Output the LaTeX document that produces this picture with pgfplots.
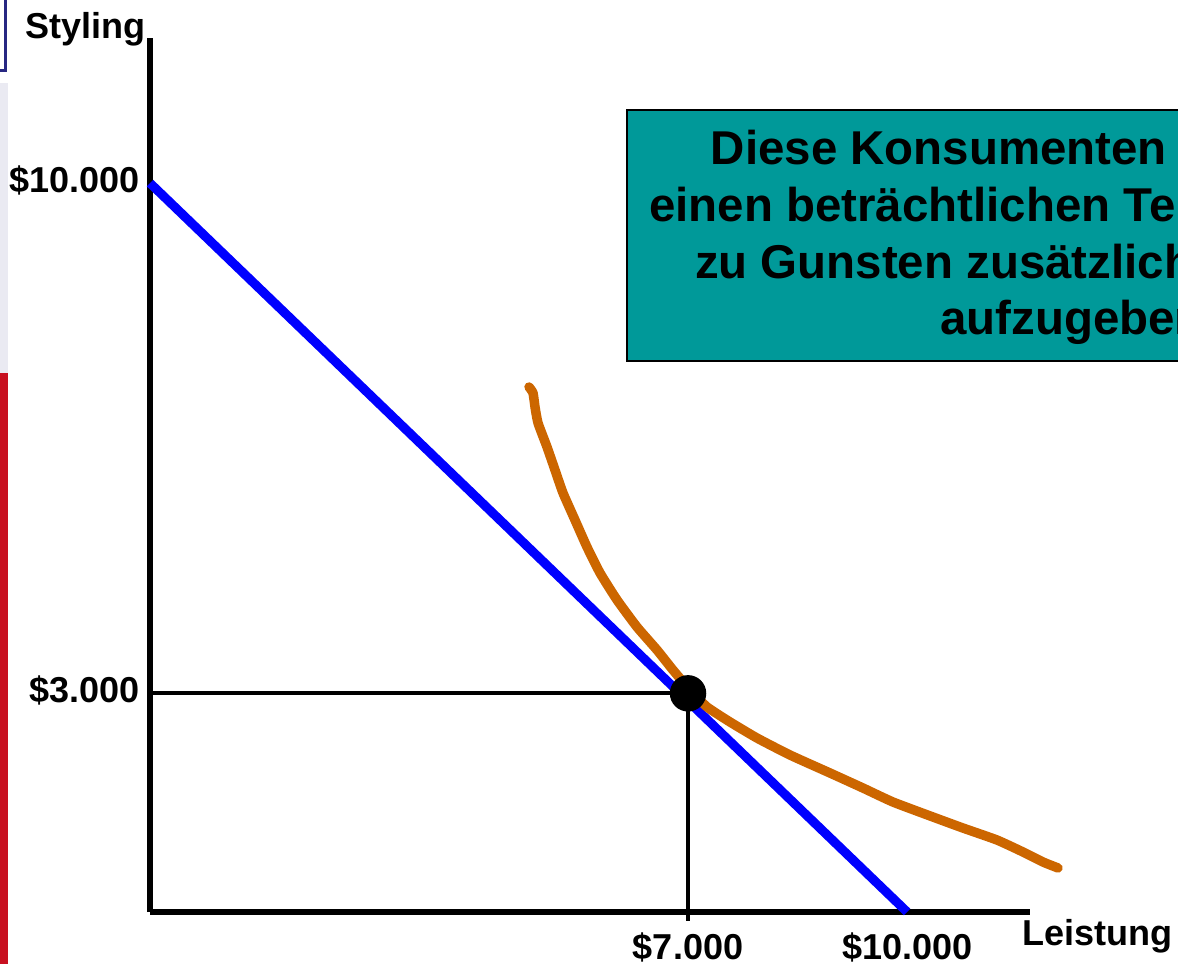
\documentclass[border=0pt]{standalone}
\usepackage{pgfplots}
\pgfplotsset{compat=1.18}
\usepackage{fontspec}
\setmainfont{Liberation Sans}
\definecolor{boxteal}{RGB}{0,153,153}
\definecolor{curveorange}{RGB}{204,102,0}
\definecolor{slidenavy}{RGB}{40,40,130}
\definecolor{slidered}{RGB}{200,16,32}
\definecolor{slidegray}{RGB}{234,234,242}
\begin{document}
\begin{tikzpicture}
\useasboundingbox (0,0) rectangle (11.78,9.64);
\clip (0,0) rectangle (11.78,9.64);
\fill[slidegray] (0,5.91) rectangle (0.08,8.81);
\fill[slidered] (0,0) rectangle (0.08,5.91);
\draw[slidenavy, line width=0.03cm] (-1,8.93) rectangle (0.055,10);
\draw[black, line width=0.6pt, fill=boxteal] (6.27,6.03) rectangle (15.17,8.54);
\node[anchor=base, align=center, inner sep=0pt, font=\fontsize{13.5}{16.2}\selectfont\bfseries] at (10.72,6.29)
  {Diese Konsumenten sind bereit,\\ einen beträchtlichen Teil des Stylings\\ zu Gunsten zusätzlicher Leistung\\ aufzugeben};
\begin{axis}[
  at={(1.50cm,0.52cm)}, anchor=south west,
  scale only axis, width=8.80cm, height=8.74cm,
  xmin=0, xmax=11449, ymin=0, ymax=11991,
  axis lines=left,
  axis line style={-, line width=1.5pt, line cap=butt},
  clip=false,
  scaled ticks=false,
  xtick={7000,9850}, xticklabels={\$7.000,\$10.000},
  ytick={3000,10000}, yticklabels={\$3.000,\$10.000},
  major tick length=0pt,
  tick label style={font=\fontsize{10.25}{12}\selectfont\bfseries},
  xticklabel style={yshift=-0.08cm},
  yticklabel style={yshift=0.03cm, xshift=0.02cm},
  xlabel={Leistung}, ylabel={Styling},
  every axis x label/.style={at={(axis description cs:0.991,-0.0378)}, anchor=base west, inner sep=0pt, font=\fontsize{10.25}{12}\selectfont\bfseries},
  every axis y label/.style={at={(axis description cs:-0.142,0.9989)}, anchor=base west, inner sep=0pt, font=\fontsize{10.25}{12}\selectfont\bfseries},
]
\addplot[blue, line width=2.6pt, line cap=butt] coordinates {(0,10000) (9850,0)};
\addplot[curveorange, line width=2.7pt, line cap=round, line join=round, smooth, tension=0.3] coordinates {
(4931,7203) (4983,7121) (5009,6929) (5048,6709) (5165,6380) (5269,6064) (5373,5749)
(5529,5378) (5685,5008) (5855,4651) (6076,4281) (6336,3910) (6596,3595) (6804,3320)
(7025,3046) (7247,2813) (7546,2607) (7897,2387) (8326,2154) (8847,1907) (9276,1701)
(9666,1509) (10187,1303) (10577,1152) (11019,988) (11358,823) (11618,686) (11813,604)};
\addplot[black, line width=1.2pt] coordinates {(0,3000) (7000,3000) (7000,-120)};
\addplot[only marks, mark=*, mark size=4.98pt, black] coordinates {(7000,3000)};
\end{axis}
\end{tikzpicture}
\end{document}
